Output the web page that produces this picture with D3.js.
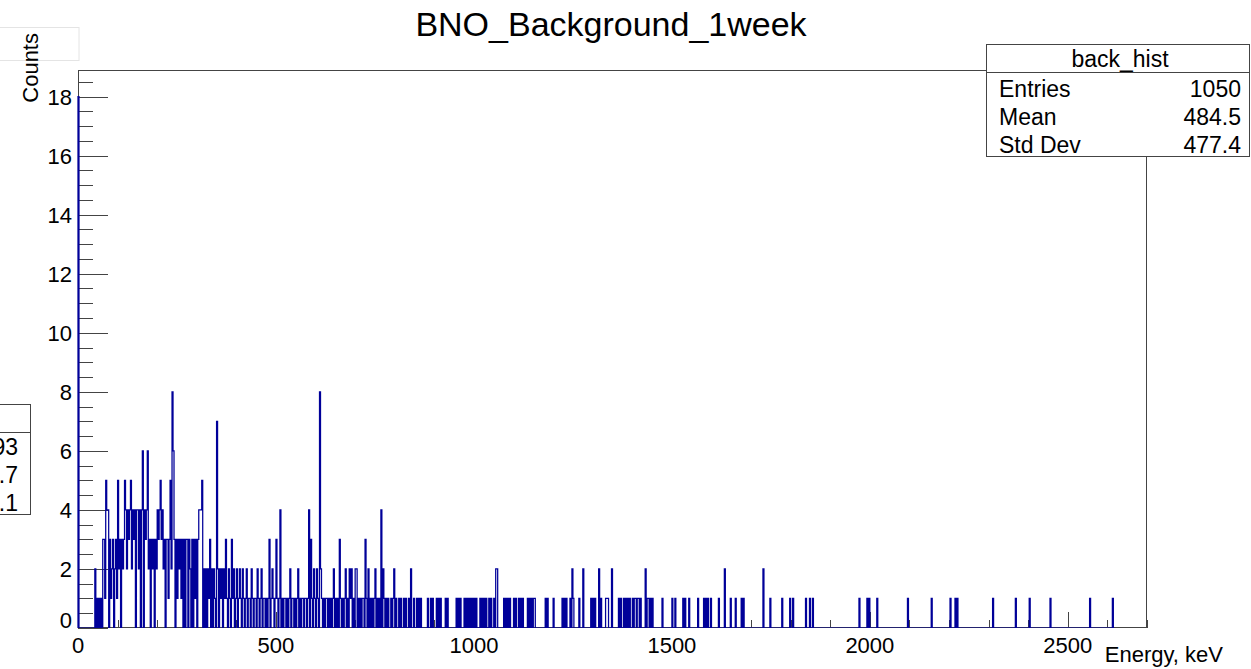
<!DOCTYPE html>
<html><head><meta charset="utf-8">
<script src="https://cdn.jsdelivr.net/npm/d3@7"></script>
<style>
body{margin:0;background:#fff}
svg{display:block}
text{font-family:"Liberation Sans",Arial,Helvetica,sans-serif;fill:#000}
</style>
</head><body>
<svg id="c" width="1251" height="669"></svg>
<script>
// ---------------- data ----------------
const title = "BNO_Background_1week";
const histName = "back_hist";
const binWidth = 2.5;          // keV per bin
const xMax = 2700;             // keV
const yMax = 18.9;
// counts of the bins from 0 keV upward (0 - 900 keV)
const lowCounts = [
 18,0,0,0,0,0,0,0,0,0,
 0,0,0,0,0,0,0,2,0,1,
 0,1,0,1,0,3,3,1,5,4,
 4,0,3,1,2,3,0,2,3,1,
 5,2,3,0,3,2,3,5,4,2,
 4,3,4,5,2,4,3,4,0,4,
 4,2,4,0,4,6,0,4,3,4,
 6,2,3,0,3,2,3,0,3,2,
 4,3,4,5,3,4,2,3,0,3,
 3,1,3,5,2,8,6,3,0,3,
 1,3,2,3,1,3,0,3,0,3,
 3,0,3,2,0,3,0,3,1,3,
 0,3,4,4,4,5,0,2,0,2,
 0,2,1,3,0,2,0,2,1,0,
 7,2,0,2,1,2,0,2,1,3,
 1,0,2,1,0,3,1,2,0,1,
 2,0,1,2,1,0,2,1,0,1,
 2,0,1,1,0,2,1,0,1,1,
 0,2,1,0,1,2,0,1,1,0,
 1,0,1,3,0,1,2,1,0,1,
 3,1,0,1,4,0,1,0,1,1,
 0,1,0,1,2,0,1,1,0,1,
 0,1,2,0,1,0,1,1,0,1,
 1,0,1,4,0,3,1,0,2,1,
 0,2,1,0,8,2,1,0,1,0,
 1,1,0,1,0,1,0,1,2,0,
 1,0,1,0,3,1,0,1,0,1,
 2,0,1,0,2,1,2,0,1,0,
 2,2,0,1,0,1,0,1,1,0,
 3,1,0,2,0,1,0,1,0,1,
 2,0,1,0,1,0,4,0,2,1,
 0,1,0,1,0,0,1,0,1,2,
 0,1,0,0,1,0,1,0,0,1,
 0,1,0,0,1,0,2,0,0,1,
 0,0,1,0,1,0,1,0,0,0,
 0,0,0,1,0,0,1,0,1,0
];
// sparse events above 900 keV
const tailEnergies = [907,912,917,929,934,957,962,967,975,980,985,990,996,1001,1006,1017,1022,1027,1032,1038,1044,1051,1055,1059,1075,1080,1085,1090,1100,1106,1114,1119,1124,1135,1140,1145,1150,1154,1181,1187,1202,1224,1229,1234,1243,1248,1251,1265,1277,1295,1300,1306,1315,1320,1333,1336,1339,1349,1366,1370,1378,1383,1388,1393,1401,1405,1409,1413,1417,1421,1433,1438,1442,1446,1450,1475,1502,1508,1529,1534,1544,1565,1582,1587,1592,1599,1619,1633,1648,1661,1676,1681,1731,1749,1779,1799,1805,1839,1849,1855,1973,1993,1998,2019,2097,2155,2204,2215,2222,2311,2369,2403,2457,2555,2614,2618];
const tailCounts   = [1,1,1,1,1,1,1,1,1,1,1,1,1,1,1,1,1,1,1,1,1,1,2,2,1,1,1,1,1,1,1,1,1,1,1,1,1,1,1,1,1,1,1,1,1,2,1,1,2,1,1,1,2,1,1,1,1,2,1,1,1,1,1,1,1,1,1,1,1,1,2,1,1,1,1,1,1,1,1,1,1,1,1,1,1,1,1,2,1,1,1,1,2,1,1,1,1,1,1,1,1,1,1,1,1,1,1,1,1,1,1,1,1,1,1];
const xTickLabels = [0,500,1000,1500,2000,2500];
const yTickLabels = [0,2,4,6,8,10,12,14,16,18];
const statsLabels = ["Entries","Mean","Std Dev"];
const statsValues = ["1050","484.5","477.4"];
const leftBoxValues = ["93",".7",".1"];

// ---------------- layout ----------------
const svg = d3.select("#c");
const L = 78, R = 1147, T = 70, B = 628;
const x = d3.scaleLinear().domain([0, xMax]).range([L, R]);
const y = d3.scaleLinear().domain([0, yMax]).range([B, T]);
const axisCol = "#444";

// build full bin array
const nBins = Math.round(xMax / binWidth);
const counts = new Array(nBins).fill(0);
lowCounts.forEach((c, i) => counts[i] = c);
tailEnergies.forEach((e, k) => { counts[Math.floor(e / binWidth)] += tailCounts[k]; });

// faint remnants of other pads (top-left)
svg.append("rect").attr("x", -1).attr("y", 27.5).attr("width", 80).attr("height", 33)
  .attr("fill", "none").attr("stroke", "#e4e4e4").attr("stroke-width", 1);

// frame
svg.append("rect").attr("x", L + 0.5).attr("y", T + 0.5)
  .attr("width", R - L - 1).attr("height", B - T - 1)
  .attr("fill", "none").attr("stroke", axisCol).attr("stroke-width", 1);

// y axis ticks
const yMinor = d3.range(0, yMax, 0.5);
svg.append("g").selectAll("line").data(yMinor).join("line")
  .attr("x1", L).attr("x2", d => L + (d % 2 === 0 ? 30 : 15))
  .attr("y1", d => Math.round(y(d)) + 0.5).attr("y2", d => Math.round(y(d)) + 0.5)
  .attr("stroke", axisCol).attr("stroke-width", 1);
svg.append("g").selectAll("text").data(yTickLabels).join("text")
  .attr("x", 72).attr("y", d => y(d) + 8 - (d === 0 ? 8 : 0))
  .attr("text-anchor", "end").attr("font-size", 22).text(d => d);

// x axis ticks
const xMinor = d3.range(0, xMax + 1, 100);
svg.append("g").selectAll("line").data(xMinor).join("line")
  .attr("x1", d => Math.round(x(d)) + 0.5).attr("x2", d => Math.round(x(d)) + 0.5)
  .attr("y1", B).attr("y2", d => B - (d % 500 === 0 ? 16 : 8))
  .attr("stroke", axisCol).attr("stroke-width", 1);
svg.append("g").selectAll("text").data(xTickLabels).join("text")
  .attr("x", d => x(d)).attr("y", 653)
  .attr("text-anchor", "middle").attr("font-size", 22).text(d => d);

// histogram (ROOT-style step outline), drawn over the frame
svg.append("clipPath").attr("id", "clip").append("rect")
  .attr("x", L - 1).attr("y", T).attr("width", R - L + 1).attr("height", B - T);
const pts = [[0, 0]].concat(counts.map((c, i) => [i * binWidth, c])).concat([[xMax, 0]]);
const line = d3.line().x(d => x(d[0])).y(d => y(d[1])).curve(d3.curveStepAfter);
svg.append("path").attr("clip-path", "url(#clip)")
  .attr("d", line(pts)).attr("fill", "none")
  .attr("stroke", "#000099").attr("stroke-width", 1.25);

// axis titles
svg.append("text").attr("x", 1223).attr("y", 662).attr("text-anchor", "end")
  .attr("font-size", 22).text("Energy, keV");
svg.append("text").attr("transform", "translate(38,33) rotate(-90)")
  .attr("text-anchor", "end").attr("font-size", 22).text("Counts");

// title
svg.append("text").attr("x", 611).attr("y", 36).attr("text-anchor", "middle")
  .attr("font-size", 34).text(title);

// stats box (right)
const sb = svg.append("g");
sb.append("rect").attr("x", 986.5).attr("y", 44.5).attr("width", 263).attr("height", 112)
  .attr("fill", "#fff").attr("stroke", axisCol);
sb.append("line").attr("x1", 986.5).attr("x2", 1249.5).attr("y1", 72.5).attr("y2", 72.5)
  .attr("stroke", axisCol);
sb.append("text").attr("x", 1120).attr("y", 67).attr("text-anchor", "middle")
  .attr("font-size", 23).text(histName);
sb.selectAll("text.l").data(statsLabels).join("text").attr("class", "l")
  .attr("x", 999).attr("y", (d, i) => 97 + i * 28).attr("font-size", 23).text(d => d);
sb.selectAll("text.v").data(statsValues).join("text").attr("class", "v")
  .attr("x", 1241).attr("y", (d, i) => 97 + i * 28).attr("text-anchor", "end")
  .attr("font-size", 23).text(d => d);

// partial stats box (left edge, from another pad)
const lb = svg.append("g");
lb.append("rect").attr("x", -10).attr("y", 404.5).attr("width", 40.5).attr("height", 110)
  .attr("fill", "#fff").attr("stroke", axisCol);
lb.append("line").attr("x1", -10).attr("x2", 30.5).attr("y1", 432.5).attr("y2", 432.5)
  .attr("stroke", axisCol);
lb.selectAll("text").data(leftBoxValues).join("text")
  .attr("x", 18).attr("y", (d, i) => 455 + i * 28).attr("text-anchor", "end")
  .attr("font-size", 23).text(d => d);
</script>
</body></html>
